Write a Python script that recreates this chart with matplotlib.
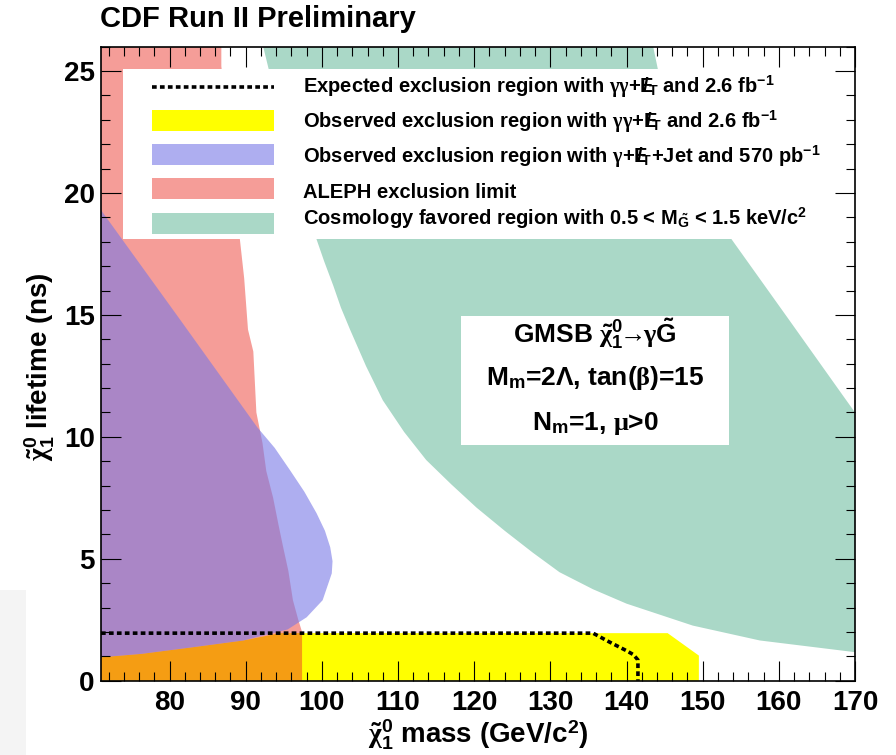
import matplotlib
matplotlib.use("Agg")
import matplotlib.pyplot as plt
from matplotlib.patches import Rectangle, Polygon
from matplotlib.ticker import MultipleLocator

# --- données (masse en GeV/c^2, durée de vie en ns) ---
MASS_MIN, MASS_MAX = 71, 170
TAU_MIN, TAU_MAX = 0, 26

# région cosmologique 0.5 < m_G < 1.5 keV : bord m_G = 0.5 (haut -> bas)
cosmo_lo_mass = [92.3, 93.0, 99.3, 100.3, 101.5, 102.5, 103.7, 105.8, 108.0,
                 110.8, 113.7, 117.0, 120.3, 124.0, 127.7, 131.2, 135.6, 140.0,
                 148.7, 157.5, 170.0]
cosmo_lo_tau = [26.0, 25.1, 18.1, 17.2, 16.2, 15.3, 14.4, 12.9, 11.5,
                10.2, 9.05, 8.05, 7.1, 6.15, 5.25, 4.45, 3.75, 3.16,
                2.26, 1.65, 1.17]
# bord m_G = 1.5 (bas -> haut)
cosmo_hi_mass = [170.0, 168.4, 161.0, 153.8, 144.1, 143.5]
cosmo_hi_tau = [11.0, 11.7, 14.95, 18.1, 25.1, 26.0]

# exclusion observée gamma gamma + MET, 2.6 fb-1
obs_mass = [71.0, 71.0, 76.3, 83.0, 89.7, 94.5, 145.4, 149.5, 149.5]
obs_tau = [0.0, 0.96, 1.1, 1.37, 1.65, 1.95, 1.95, 1.03, 0.0]

# exclusion attendue (ligne pointillée)
exp_mass = [71.0, 135.6, 137.8, 140.0, 140.9, 141.5, 141.5]
exp_tau = [1.95, 1.95, 1.58, 1.23, 1.07, 0.85, 0.0]

# exclusion gamma + MET + jet, 570 pb-1 (contour fermé)
jet_mass = [71.0, 81.4, 91.5, 93.8, 95.8, 97.7, 99.3, 100.4, 101.1, 101.4,
            101.3, 100.1, 98.0, 95.5, 89.7, 83.0, 76.3, 71.0]
jet_tau = [19.3, 14.8, 10.4, 9.55, 8.64, 7.75, 6.87, 6.15, 5.47, 4.9,
           4.4, 3.3, 2.6, 2.1, 1.65, 1.37, 1.1, 0.96]

# limite ALEPH : bord droit en fonction de la durée de vie
aleph_tau = [26.0, 25.2, 18.2, 16.5, 14.4, 13.5, 11.0, 9.75, 8.6, 7.5, 6.4,
             5.5, 4.5, 3.3, 2.5, 2.0, 0.0]
aleph_mass = [86.8, 86.8, 89.2, 89.8, 90.3, 91.0, 91.4, 92.2, 92.7, 93.6, 94.3,
              94.9, 95.6, 96.2, 96.9, 97.4, 97.4]

legend_labels = [
    r"Expected exclusion region with $\gamma\gamma$+$\mathrm{E}\!\!\!\!/_\mathrm{T}$ and 2.6 fb$^\mathrm{-1}$",
    r"Observed exclusion region with $\gamma\gamma$+$\mathrm{E}\!\!\!\!/_\mathrm{T}$ and 2.6 fb$^\mathrm{-1}$",
    r"Observed exclusion region with $\gamma$+$\mathrm{E}\!\!\!\!/_\mathrm{T}$+Jet and 570 pb$^\mathrm{-1}$",
    "ALEPH exclusion limit",
    r"Cosmology favored region with 0.5 < M$_{\tilde{\mathrm{G}}}$ < 1.5 keV/c$^\mathrm{2}$",
]
box_lines = [
    r"GMSB $\tilde{\chi}^\mathrm{0}_\mathrm{1}\!\!\rightarrow\!\!\gamma\tilde{\mathrm{G}}$",
    r"M$_\mathrm{m}$=2$\Lambda$, tan($\beta$)=15",
    r"N$_\mathrm{m}$=1, $\mu$>0",
]

# --- style ---
plt.rcParams["font.family"] = ["Liberation Sans", "DejaVu Sans"]
plt.rcParams["font.weight"] = "bold"
plt.rcParams["axes.labelweight"] = "bold"
plt.rcParams["mathtext.fontset"] = "custom"
plt.rcParams["mathtext.rm"] = "Liberation Sans:bold"
plt.rcParams["mathtext.bf"] = "Liberation Sans:bold"
plt.rcParams["mathtext.sf"] = "Liberation Sans:bold"
plt.rcParams["mathtext.it"] = "Liberation Serif"

GREEN = "#aad8c7"
YELLOW = "#ffff00"
RED, RED_A = "#eb3228", 0.48
BLUE, BLUE_A = "#7878e6", 0.6

W, H = 896, 755
fig = plt.figure(figsize=(W / 100, H / 100), dpi=100)
fig.add_artist(Rectangle((0, 0), 26 / W, 165 / H, transform=fig.transFigure,
                         facecolor="#f4f4f4", edgecolor="none", zorder=0))
ax = fig.add_axes([101 / W, 1 - 680.7 / H, 754 / W, 634 / H])

cosmo = list(zip(cosmo_lo_mass + cosmo_hi_mass, cosmo_lo_tau + cosmo_hi_tau))
ax.add_patch(Polygon(cosmo, closed=True, facecolor=GREEN, edgecolor="none", zorder=1))
ax.add_patch(Polygon(list(zip(obs_mass, obs_tau)), closed=True,
                     facecolor=YELLOW, edgecolor="none", zorder=1.1))
ax.fill_betweenx(aleph_tau, MASS_MIN, aleph_mass, facecolor=RED, alpha=RED_A,
                 edgecolor="none", zorder=1.2)
ax.add_patch(Polygon(list(zip(jet_mass, jet_tau)), closed=True, facecolor=BLUE,
                     alpha=BLUE_A, edgecolor="none", zorder=1.3))
dots = (0, (1.3, 0.9))
ax.plot(exp_mass, exp_tau, color="black", lw=2.6, linestyle=dots,
        dash_capstyle="butt", zorder=2.2)

ax.set_xlim(MASS_MIN, MASS_MAX)
ax.set_ylim(TAU_MIN, TAU_MAX)
ax.set_axisbelow(False)
ax.xaxis.set_major_locator(MultipleLocator(10))
ax.xaxis.set_minor_locator(MultipleLocator(2))
ax.yaxis.set_major_locator(MultipleLocator(5))
ax.yaxis.set_minor_locator(MultipleLocator(1))
ax.tick_params(which="both", direction="in", top=True, right=True, width=0.8,
               labelsize=20)
ax.tick_params(which="major", length=14.4)
ax.tick_params(which="minor", length=6.8)
ax.tick_params(axis="x", pad=6.5)
ax.tick_params(axis="y", pad=4.5)
for sp in ax.spines.values():
    sp.set_linewidth(1.2)

ax.set_xlabel(r"$\tilde{\chi}^\mathrm{0}_\mathrm{1}$ mass (GeV/c$^\mathrm{2}$)", fontsize=20,
              va="center")
ax.xaxis.set_label_coords(0.5, (680.7 - 735) / 634)
ax.set_ylabel(r"$\tilde{\chi}^\mathrm{0}_\mathrm{1}$ lifetime (ns)", fontsize=20,
              va="center", ha="center")
ax.yaxis.set_label_coords((40 - 101) / 754, (680.7 - 367) / 634)

fig.text(100 / W, 1 - 19 / H, "CDF Run II Preliminary", fontsize=21,
         fontweight="bold", va="center", ha="left")

# légende (boîte blanche sans cadre)
ax.add_patch(Rectangle((0.0296, 0.6967), 1 - 0.0296, 0.9643 - 0.6967,
                       transform=ax.transAxes, facecolor="white",
                       edgecolor="none", zorder=2))
sw_x0, sw_x1, txt_x = 0.0672, 0.2294, 0.268
sw_y = [(680.7 - p) / 634 for p in (86.7, 120.3, 154.7, 188.7, 223.0)]
txt_y = [(680.7 - p) / 634 for p in (93.3, 128.3, 163.3, 198.3, 225.0)]
sw_h = 21 / 634
ax.plot([sw_x0, sw_x1], [sw_y[0]] * 2, transform=ax.transAxes, color="black",
        lw=2.6, linestyle=dots, dash_capstyle="butt", zorder=3)
swatches = [(YELLOW, 1.0), (BLUE, BLUE_A), (RED, RED_A), (GREEN, 1.0)]
for (fc, a), yc in zip(swatches, sw_y[1:]):
    ax.add_patch(Rectangle((sw_x0, yc - sw_h / 2), sw_x1 - sw_x0, sw_h,
                           transform=ax.transAxes, facecolor=fc, alpha=a,
                           edgecolor="none", zorder=3))
for lab, yb in zip(legend_labels, txt_y):
    ax.text(txt_x, yb, lab, transform=ax.transAxes, fontsize=14.5,
            fontweight="bold", va="baseline", ha="left", zorder=3)

# encadré du modèle
ax.add_patch(Rectangle((0.4775, 0.3718), 0.8333 - 0.4775, 0.5752 - 0.3718,
                       transform=ax.transAxes, facecolor="white",
                       edgecolor="none", zorder=2))
for line, yb in zip(box_lines, (0.5326, 0.4664, 0.3954)):
    ax.text(0.6552, yb, line, transform=ax.transAxes, fontsize=19,
            fontweight="bold", va="baseline", ha="center", zorder=3)

fig.savefig("out.png", dpi=100)
